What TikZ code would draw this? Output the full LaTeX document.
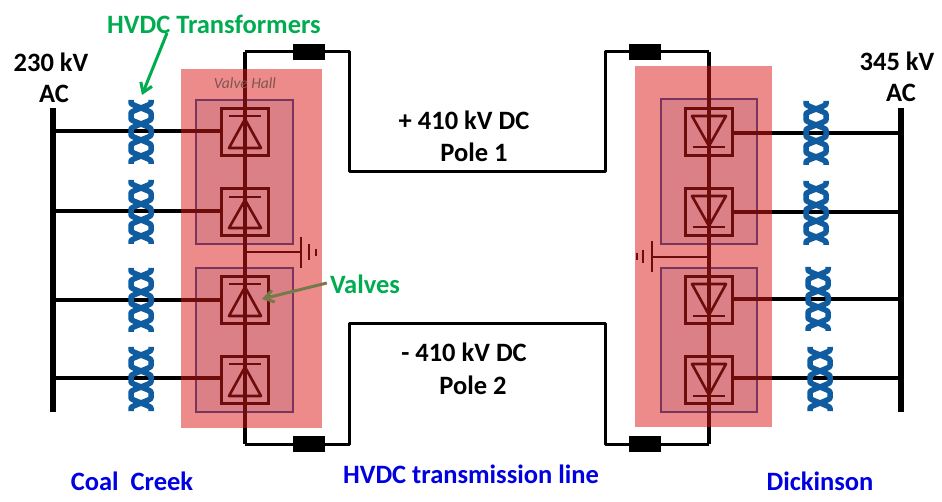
\documentclass[tikz,border=0pt]{standalone}
\usepackage{fontspec}
\setmainfont{Carlito}
\usetikzlibrary{arrows.meta}
\definecolor{hallred}{RGB}{221,25,25}
\definecolor{innerfill}{RGB}{215,232,245}
\definecolor{innerline}{RGB}{25,80,165}
\definecolor{xfblue}{RGB}{15,92,160}
\definecolor{labgreen}{RGB}{0,172,80}
\definecolor{labblue}{RGB}{0,0,225}
\definecolor{olive}{RGB}{118,122,72}
\tikzset{
  x=1pt,y=-1pt,
  wire/.style={draw=black,line width=3pt,line join=round},
  stack/.style={draw=black,line width=3.6pt},
  acline/.style={draw=black,line width=3.6pt},
  bus/.style={draw=black,line width=6pt},
  valvebox/.style={draw=black,line width=2.6pt,minimum width=47pt,minimum height=47pt,inner sep=0pt},
  diode/.style={draw=black,line width=2.6pt,line join=round},
  reactor/.style={fill=black,draw=none,minimum width=32pt,minimum height=16pt,inner sep=0pt},
  hall/.style={fill=hallred,fill opacity=.5,draw=none},
  inner/.style={fill=innerfill,draw=innerline,line width=2pt},
  lab/.style={font=\fontsize{26.5}{30}\selectfont\bfseries,text=black,inner sep=0pt},
  greenlab/.style={lab,text=labgreen},
  bluelab/.style={lab,text=labblue},
  xf/.style={draw=xfblue,line width=5.5pt,line cap=butt,line join=round},
  greenarrow/.style={draw=labgreen,line width=3pt,-{Straight Barb[length=9pt,width=12pt]}},
  olivearrow/.style={draw=olive,line width=3pt,-{Straight Barb[length=9pt,width=12pt]}},
}
% transformer: name, centre x, top y
\newcommand{\xfmr}[3]{%
  \coordinate (#1) at (#2,#3+32);
  \draw[xf] plot[domain=0:64,samples=65] ({#2+10*max(-1,min(1,1.3*cos(\x*11.25)))},{#3+\x});
  \draw[xf] plot[domain=0:64,samples=65] ({#2-10*max(-1,min(1,1.3*cos(\x*11.25)))},{#3+\x});
}
% valves: name, centre x, box centre y, bar y, base y
\newcommand{\valveup}[5]{%
  \node[valvebox] (#1) at (#2,#3) {};
  \draw[diode] (#2-16,#4) -- (#2+16,#4);
  \draw[diode] (#2,#4+3) -- (#2+16,#5) -- (#2-16,#5) -- cycle;
}
\newcommand{\valvedown}[5]{%
  \node[valvebox] (#1) at (#2,#3) {};
  \draw[diode] (#2-16,#5) -- (#2+16,#5);
  \draw[diode] (#2,#5-1) -- (#2+17,#4) -- (#2-17,#4) -- cycle;
}
\begin{document}
\begin{tikzpicture}
\useasboundingbox (0,0) rectangle (942,502);
\fill[white] (0,0) rectangle (942,502);
% inner boxes
\draw[inner] (196,100) rectangle (293,244);
\draw[inner] (196,268) rectangle (293,412);
\draw[inner] (661,99) rectangle (757,244);
\draw[inner] (661,268) rectangle (757,412);
% valves
\valveup{VL1}{245}{132}{116}{148}
\valveup{VL2}{245}{212}{197}{228}
\valveup{VL3}{245}{300}{284}{316}
\valveup{VL4}{245}{380}{364}{396}
\valvedown{VR1}{709}{132}{116}{147}
\valvedown{VR2}{709}{212}{196}{227}
\valvedown{VR3}{709}{300}{284}{316}
\valvedown{VR4}{709}{380}{364}{396}
% reactors and wire corners
\node[reactor] (RL1) at (309,52) {};
\node[reactor] (RL2) at (309,444) {};
\node[reactor] (RR1) at (645,52) {};
\node[reactor] (RR2) at (645,444) {};
\coordinate (TL) at (245,52);
\coordinate (TR) at (709,52);
\coordinate (BL) at (245,444);
\coordinate (BR) at (709,444);
% DC lines
\draw[wire] (TL) -- (RL1);
\draw[wire] (RL1) -- (349,52) -- (349,172) -- (605,172) -- (605,52) -- (RR1);
\draw[wire] (RR1) -- (TR);
\draw[wire] (BL) -- (RL2);
\draw[wire] (RL2) -- (349,444) -- (349,324) -- (605,324) -- (605,444) -- (RR2);
\draw[wire] (RR2) -- (BR);
% valve stacks
\draw[stack] (TL) -- (BL);
\draw[stack] (TR) -- (BR);
% buses
\coordinate (LB1) at (53,131);
\coordinate (LB2) at (53,211);
\coordinate (LB3) at (53,300);
\coordinate (LB4) at (53,378);
\coordinate (RB1) at (901,133);
\coordinate (RB2) at (901,212);
\coordinate (RB3) at (901,299);
\coordinate (RB4) at (901,378);
\coordinate (LBt) at (53,108);
\coordinate (LBb) at (53,412);
\coordinate (RBt) at (901,108);
\coordinate (RBb) at (901,412);
\draw[bus] (LBt) -- (LBb);
\draw[bus] (RBt) -- (RBb);
% AC lines
\draw[acline] (LB1) -- (VL1.west |- LB1);
\draw[acline] (LB2) -- (VL2.west |- LB2);
\draw[acline] (LB3) -- (VL3.west |- LB3);
\draw[acline] (LB4) -- (VL4.west |- LB4);
\draw[acline] (RB1) -- (VR1.east |- RB1);
\draw[acline] (RB2) -- (VR2.east |- RB2);
\draw[acline] (RB3) -- (VR3.east |- RB3);
\draw[acline] (RB4) -- (VR4.east |- RB4);
% transformers
\xfmr{XL1}{141}{100}
\xfmr{XL2}{141}{180}
\xfmr{XL3}{141}{268}
\xfmr{XL4}{141}{347}
\xfmr{XR1}{816}{101}
\xfmr{XR2}{816}{181}
\xfmr{XR3}{818}{267}
\xfmr{XR4}{820}{347}
% the AC lines show through the transformers
\draw[line width=3pt,black] (136,131) -- (146,131);
\draw[line width=3pt,black] (136,211) -- (146,211);
\draw[line width=3pt,black] (136,300) -- (146,300);
\draw[line width=3pt,black] (136,378) -- (146,378);
\draw[line width=3pt,black] (811,133) -- (821,133);
\draw[line width=3pt,black] (811,212) -- (821,212);
\draw[line width=3pt,black] (813,299) -- (823,299);
\draw[line width=3pt,black] (815,378) -- (825,378);
% grounds
\coordinate (GL) at (245,252);
\coordinate (GLa) at (301,252);
\coordinate (GR) at (709,257);
\coordinate (GRa) at (652,257);
\draw[diode] (GL) -- (GLa);
\draw[diode] (301,237) -- (301,268);
\draw[diode] (309,244) -- (309,260);
\draw[diode] (316,249) -- (316,256);
\draw[diode] (GR) -- (GRa);
\draw[diode] (652,241) -- (652,272);
\draw[diode] (643,250) -- (643,263);
\draw[diode] (637,253) -- (637,260);
% valve halls
\path[hall] (181,69) rectangle (322,428);
\path[hall] (635,66) rectangle (772,427);
% labels
\node[lab] (t230) at (51,62) {230 kV};
\node[lab] (tacl) at (54,94) {AC};
\node[lab] (t345) at (897,61) {345 kV};
\node[lab] (tacr) at (901,93) {AC};
\node[lab] (tp1) at (464,120) {+ 410 kV DC};
\node[lab] (tp1b) at (474,152) {Pole 1};
\node[lab] (tp2) at (464,352) {- 410 kV DC};
\node[lab] (tp2b) at (473,385) {Pole 2};
\node[greenlab] (thv) at (214,24) {HVDC Transformers};
\node[greenlab] (tva) at (365,284) {Valves};
\node[bluelab] (tcc) at (132,481) {Coal\ \ Creek};
\node[bluelab] (tln) at (471,474) {HVDC transmission line};
\node[bluelab] (tdk) at (820,481) {Dickinson};
\node[inner sep=0pt,font=\fontsize{15.5}{18}\selectfont\itshape,text={rgb,255:red,125;green,85;blue,80}] (thl) at (245,83) {Valve Hall};
% pointers
\coordinate (XLtop) at (142,95);
\coordinate (VLpt) at (262,299);
\draw[greenarrow] (167,33) -- (XLtop);
\draw[olivearrow] (tva.west) ++(-3,-1) -- (VLpt);
\end{tikzpicture}
\end{document}
